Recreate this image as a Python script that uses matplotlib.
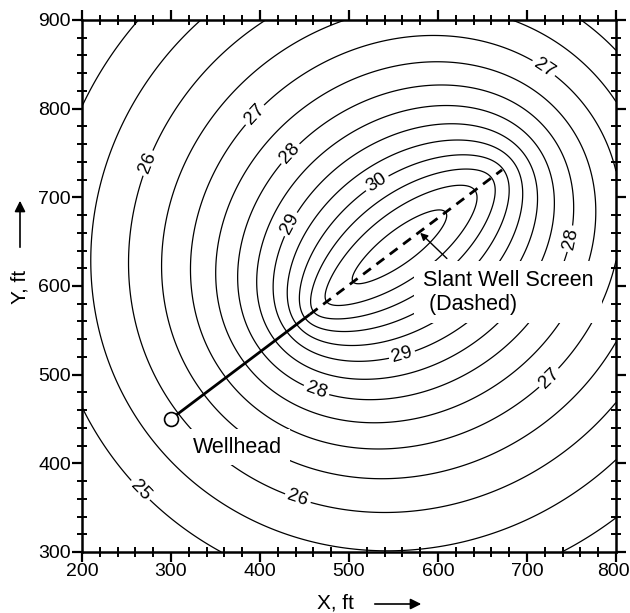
import numpy as np
import matplotlib
matplotlib.use("Agg")
import matplotlib.pyplot as plt
import matplotlib.transforms as mtransforms
from matplotlib.ticker import MultipleLocator

plt.rcParams['font.family'] = ['Liberation Sans', 'DejaVu Sans']

# ---- data ----
x_limits = [200, 800]
y_limits = [300, 900]
wellhead = [300, 450]
screen_start = [456, 568]
screen_end = [672, 731]
screen_depth = [14, 24]          # offset of screen below plotted layer (ft)
end_weight = 0.5                 # share of inflow concentrated at screen ends
head_far = 48.07                 # head parameter of line-source model
head_scale = 3.85                # head change per unit ln(distance)
label_levels = [25, 26, 27, 28, 29, 30, 31]
half_levels = [25.5, 26.5, 27.5, 28.5, 29.5, 30.5, 31.5]
label_positions = [(262, 366), (273, 739), (441, 356), (392, 795), (715, 840),
                   (724, 497), (430, 753), (460, 473), (745, 654), (430, 672),
                   (561, 517), (529, 720)]
x_ticks = [200, 300, 400, 500, 600, 700, 800]
y_ticks = [300, 400, 500, 600, 700, 800, 900]

# ---- head field from line source along screen ----
xs = np.linspace(x_limits[0], x_limits[1], 301)
ys = np.linspace(y_limits[0], y_limits[1], 301)
X, Y = np.meshgrid(xs, ys)
n_seg = 300
k = np.arange(n_seg) + 0.5
t_uniform = k / n_seg
t_ends = (1 - np.cos(np.pi * k / n_seg)) / 2


def mean_log(ts):
    acc = np.zeros_like(X)
    for t in ts:
        px = screen_start[0] + t * (screen_end[0] - screen_start[0])
        py = screen_start[1] + t * (screen_end[1] - screen_start[1])
        z = screen_depth[0] + t * (screen_depth[1] - screen_depth[0])
        acc += 0.5 * np.log((X - px) ** 2 + (Y - py) ** 2 + z ** 2)
    return acc / len(ts)


acc = end_weight * mean_log(t_ends) + (1 - end_weight) * mean_log(t_uniform)
H = head_far - head_scale * acc

fig = plt.figure(figsize=(6.30, 6.13), dpi=100)
ax = fig.add_axes([82 / 630, 61 / 613, 534 / 630, 532 / 613])

cs_int = ax.contour(X, Y, H, levels=label_levels, colors='black', linewidths=0.9)
cs_half = ax.contour(X, Y, H, levels=half_levels, colors='black', linewidths=0.9)
ax.clabel(cs_int, manual=label_positions, fmt='%d',
          fontsize=13.5, inline=True, inline_spacing=3)

# well
ax.plot([wellhead[0], screen_start[0]], [wellhead[1], screen_start[1]],
        color='black', lw=2.0, solid_capstyle='butt', zorder=5)
ax.plot([screen_start[0], screen_end[0]], [screen_start[1], screen_end[1]],
        color='black', lw=2.0, linestyle=(0, (3.5, 2.5)), zorder=5)
ax.plot([wellhead[0]], [wellhead[1]], marker='o', markersize=10,
        markerfacecolor='white', markeredgecolor='black', markeredgewidth=1.2,
        zorder=6)

# annotations
ax.text(325, 418, 'Wellhead', fontsize=15.5, ha='left', va='center', zorder=4,
        bbox=dict(boxstyle='square,pad=0.35', facecolor='white', edgecolor='none'))
ax.text(583, 593, 'Slant Well Screen\n (Dashed)', fontsize=15.5, ha='left',
        va='center', linespacing=1.2, zorder=4,
        bbox=dict(boxstyle='square,pad=0.4', facecolor='white', edgecolor='none'))
ax.annotate('', xy=(580, 660), xytext=(610, 631),
            arrowprops=dict(arrowstyle='-|>', color='black', lw=1.0,
                            shrinkA=0, shrinkB=0, mutation_scale=11),
            zorder=7)

ax.set_xlim(x_limits)
ax.set_ylim(y_limits)
ax.set_xticks(x_ticks)
ax.set_yticks(y_ticks)
ax.xaxis.set_minor_locator(MultipleLocator(20))
ax.yaxis.set_minor_locator(MultipleLocator(20))
ax.tick_params(which='major', direction='out', length=7, width=1.6,
               top=True, right=True, labelsize=14, pad=1)
ax.tick_params(which='minor', direction='inout', length=7, width=1.4,
               top=True, right=True)
for s in ax.spines.values():
    s.set_linewidth(1.8)

# keep the last x tick label inside the picture
last_label = ax.get_xticklabels()[-1]
last_label.set_transform(last_label.get_transform() +
                         mtransforms.ScaledTranslation(-3 / 100, 0, fig.dpi_scale_trans))

# axis labels with arrows
fig.text(335 / 630, 1 - 603 / 613, 'X, ft', fontsize=15, ha='center', va='center')
fig.text(20 / 630, 1 - 287 / 613, 'Y, ft', fontsize=15, ha='center', va='center',
         rotation=90)
fig.add_artist(matplotlib.patches.FancyArrowPatch(
    (372 / 630, 1 - 604 / 613), (424 / 630, 1 - 604 / 613),
    transform=fig.transFigure, arrowstyle='-|>', mutation_scale=16,
    color='black', lw=1.2))
fig.add_artist(matplotlib.patches.FancyArrowPatch(
    (20 / 630, 1 - 250 / 613), (20 / 630, 1 - 198 / 613),
    transform=fig.transFigure, arrowstyle='-|>', mutation_scale=16,
    color='black', lw=1.2))

fig.savefig('out.png', dpi=100)
